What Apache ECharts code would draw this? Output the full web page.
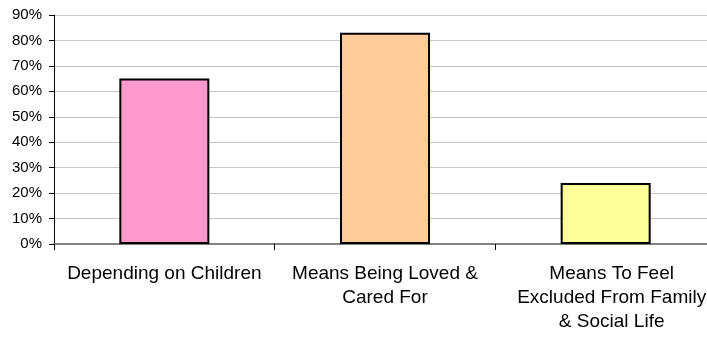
<!DOCTYPE html>
<html>
<head>
<meta charset="utf-8">
<script src="https://cdn.jsdelivr.net/npm/echarts@6/dist/echarts.min.js"></script>
<style>
  html, body { margin: 0; padding: 0; background: #ffffff; }
  #chart { width: 707px; height: 338px; }
</style>
</head>
<body>
<div id="chart"></div>
<script>
// Survey answers: what ageing means to respondents (share of respondents, %)
const categories = [
  'Depending on Children',
  'Means Being Loved &\nCared For',
  'Means To Feel\nExcluded From Family\n& Social Life'
];
const values = [65, 83, 24];
const barColors = ['#FF99CC', '#FFCC99', '#FFFF99'];
const yTicks = { min: 0, max: 90, step: 10 };

const chart = echarts.init(document.getElementById('chart'), null, { renderer: 'canvas' });

const font = '"Liberation Sans", Arial, Helvetica, sans-serif';

chart.setOption({
  animation: false,
  backgroundColor: '#ffffff',
  // plot area runs slightly past the right edge of the canvas
  grid: { left: 54, width: 662, top: 15, bottom: 94, containLabel: false, outerBoundsMode: 'none' },
  xAxis: {
    type: 'category',
    data: categories.map((c, i) => i === 2
      ? { value: c, textStyle: { padding: [0, 0, 0, 12] } }
      : c),
    axisLine: { show: true, lineStyle: { color: '#808080', width: 2 } },
    axisTick: { show: true, alignWithLabel: false, length: 6, lineStyle: { color: '#000000', width: 1 } },
    axisLabel: {
      interval: 0,
      margin: 18,
      color: '#000000',
      fontFamily: font,
      fontSize: 19,
      lineHeight: 24,
      align: 'center'
    },
    splitLine: { show: false }
  },
  yAxis: {
    type: 'value',
    min: yTicks.min,
    max: yTicks.max,
    interval: yTicks.step,
    axisLine: { show: true, lineStyle: { color: '#000000', width: 1 } },
    axisTick: { show: true, inside: false, length: 5, lineStyle: { color: '#000000' } },
    axisLabel: {
      formatter: '{value}%',
      margin: 12,
      color: '#000000',
      fontFamily: font,
      fontSize: 15
    },
    splitLine: { show: true, lineStyle: { color: '#c8c8c8', width: 1 } }
  },
  series: [{
    type: 'bar',
    barWidth: 90,
    data: values.map((v, i) => ({
      value: v,
      itemStyle: { color: barColors[i], borderColor: '#000000', borderWidth: 2 }
    }))
  }]
});
</script>
</body>
</html>
